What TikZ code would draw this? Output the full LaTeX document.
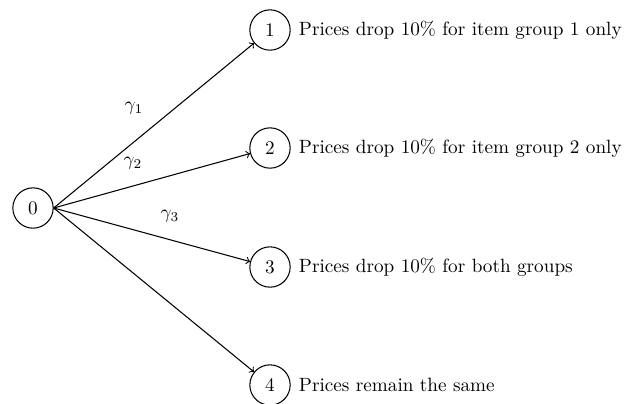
\documentclass[tikz,border=0pt]{standalone}
\usetikzlibrary{positioning}
\begin{document}
\begin{tikzpicture}[x=0.5208pt,y=-0.5208pt,
  state/.style={circle,draw,line width=0.55pt,minimum size=21pt,inner sep=0pt},
  desc/.style={anchor=west,inner sep=0pt},
  edge/.style={->,line width=0.55pt},
  lbl/.style={inner sep=0pt}]
\useasboundingbox (0,0) rectangle (634,403);
\node[state] (n0) at (33,208) {0};
\node[state] (n1) at (270,30) {1};
\node[state] (n2) at (270,148) {2};
\node[state] (n3) at (270,267) {3};
\node[state] (n4) at (270,385) {4};
\node[desc] (t1) at ([xshift=4.1pt]n1.east) {Prices drop 10\% for item group 1 only};
\node[desc] (t2) at ([xshift=4.1pt]n2.east) {Prices drop 10\% for item group 2 only};
\node[desc] (t3) at ([xshift=4.1pt]n3.east) {Prices drop 10\% for both groups};
\node[desc] (t4) at ([xshift=4.1pt]n4.east) {Prices remain the same};
\draw[edge] (n0.east) -- (n1);
\draw[edge] (n0.east) -- (n2);
\draw[edge] (n0.east) -- (n3);
\draw[edge] (n0.east) -- (n4);
\node[lbl] (g1) at (134,108) {$\gamma_1$};
\node[lbl] (g2) at (133,163) {$\gamma_2$};
\node[lbl] (g3) at (170,216) {$\gamma_3$};
\end{tikzpicture}
\end{document}
